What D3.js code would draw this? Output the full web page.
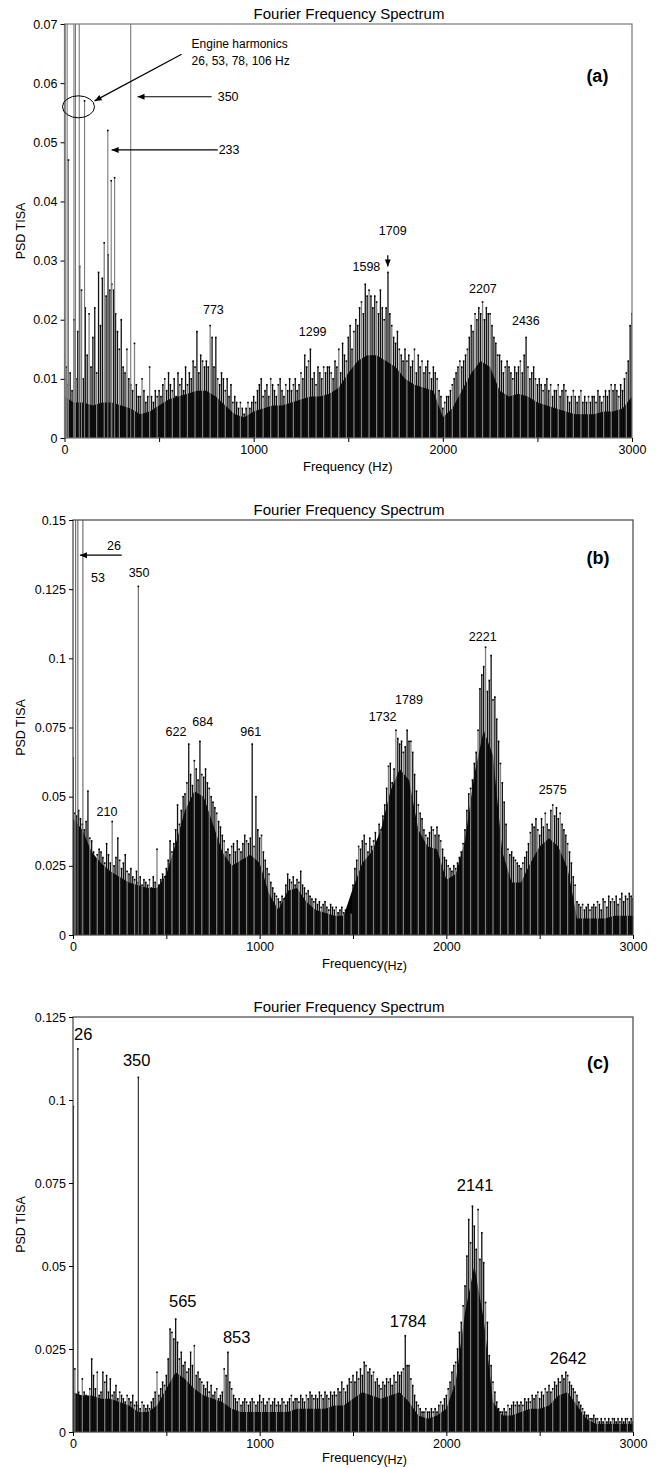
<!DOCTYPE html>
<html><head><meta charset="utf-8">
<script src="https://cdn.jsdelivr.net/npm/d3@7"></script>
<style>
body{margin:0;background:#fff;}
text{font-family:"Liberation Sans",Arial,Helvetica,sans-serif;fill:#000;}
</style></head><body>
<svg id="chart" width="663" height="1468"></svg>
<script>
// ---------------- DATA ----------------
// PSD values in thousandths (x 1e-3). Stems sampled every 10 Hz, floor (dense band) every 50 Hz.
const STEM_STEP_HZ = 10;
const FLOOR_STEP_HZ = 50;
const xTickValues = [0, 500, 1000, 1500, 2000, 2500, 3000];
const xTickLabels = ["0", "", "1000", "", "2000", "", "3000"];

// Panel (a)
const stemsA_milli = [
 14,12,9,11,8,20,10,18,29,25,
 10,22,14,21,12,17,22,11,28,19,
 27,33,24,31,25,26,25,21,18,15,
 20,12,11,15,10,9,8,16,9,7,
 7,10,8,6,7,12,7,6,8,7,
 8,7,9,10,8,11,9,8,10,7,
 11,9,10,8,12,9,11,10,13,12,
 18,11,14,13,12,13,12,19,17,12,
 17,10,9,11,10,8,10,7,9,6,
 7,6,5,6,5,4,5,6,5,6,
 7,6,8,9,10,7,8,9,7,10,
 9,8,7,9,10,8,7,9,8,10,
 8,9,10,8,9,11,10,14,12,13,
 15,10,11,9,12,11,10,12,11,12,
 12,11,10,13,12,15,11,16,14,13,
 17,19,15,18,20,19,22,23,21,26,
 24,25,24,22,24,23,21,25,22,20,
 22,28,21,19,17,16,18,15,14,13,
 15,13,14,12,13,15,11,14,12,13,
 11,12,13,11,10,12,11,10,8,7,
 5,6,7,7,8,9,10,11,12,13,
 12,13,14,15,17,19,18,21,20,22,
 21,23,20,22,21,21,19,17,16,14,
 14,13,11,12,13,12,11,10,12,11,
 12,13,11,14,17,12,10,11,12,10,
 9,10,9,8,9,10,8,9,7,8,
 8,9,7,8,9,8,7,6,7,8,
 7,6,7,8,6,7,6,7,6,7,
 7,6,8,7,6,7,8,7,8,9,
 8,9,8,7,9,8,10,11,13,19,
 21];
const floorA_milli = [
 7,6,6,5.5,6,6,5.5,5,4,4.5,
 5.5,6.5,7,7.5,8,8,7,5.5,4,3.5,
 4.5,5,5.5,5.5,6,6.5,7,7,7.5,8.5,
 11,13,14,14,13,12,10,9,8.5,8,
 3.5,5,8,11,13,12,8,7,7.5,7,
 6,5.5,5,4.5,4,4,4,4.5,4.5,5,
 7];
const peakFreqA = [4, 14, 21, 50, 58, 78, 106, 229, 247, 265, 350];
const peakValA  = [0.09, 0.09, 0.047, 0.09, 0.09, 0.09, 0.057, 0.052, 0.0435, 0.044, 0.09];
const yTicksA = [0, 0.01, 0.02, 0.03, 0.04, 0.05, 0.06, 0.07];

// Panel (b)
const stemsB_milli = [
 64,44,43,45,42,40,38,41,52,35,
 34,30,27,29,31,30,28,26,33,29,
 26,41,25,28,35,27,24,26,29,23,
 22,24,21,20,23,19,21,18,20,19,
 18,20,17,21,19,31,18,20,22,21,
 24,27,34,30,33,38,47,40,45,50,
 51,55,69,58,54,63,60,56,70,58,
 57,60,55,53,50,48,46,44,41,39,
 36,34,30,31,29,32,33,30,34,31,
 30,33,36,34,33,35,69,32,50,38,
 35,36,30,27,24,22,19,17,15,14,
 13,12,14,13,18,22,20,19,21,18,
 20,19,23,18,17,15,16,14,13,12,
 13,11,12,10,11,12,10,9,11,10,
 9,10,8,9,10,8,9,8,9,8,
 18,24,27,32,31,34,36,33,30,35,
 32,34,37,33,40,38,43,47,53,61,
 62,55,60,74,71,69,70,66,68,74,
 70,70,66,58,52,47,44,42,38,36,
 35,37,39,38,36,39,36,34,31,28,
 27,25,24,23,25,24,26,28,30,33,
 38,45,51,53,56,62,66,74,89,94,
 97,104,88,92,101,85,86,78,70,62,
 55,48,40,31,29,30,28,27,26,25,
 24,26,28,30,33,37,40,39,42,38,
 36,42,39,44,40,38,45,47,43,46,
 42,44,40,38,36,33,30,26,21,18,
 12,11,10,11,9,10,11,9,10,11,
 10,12,11,9,13,12,10,14,12,13,
 12,14,11,13,15,12,14,13,15,14,
 13];
const floorB_milli = [
 42,38,30,26,23,21,19,18,17,17,
 22,33,45,52,50,40,30,25,27,29,
 26,15,9,16,17,12,9,8,7,7,
 17,26,30,38,52,60,56,38,32,31,
 20,22,34,58,74,65,30,19,19,26,
 32,35,32,24,6,6,6,6,7,7,
 7];
const peakFreqB = [14, 26, 53, 350];
const peakValB  = [0.2, 0.2, 0.2, 0.126];
const yTicksB = [0, 0.025, 0.05, 0.075, 0.1, 0.125, 0.15];

// Panel (c)
const stemsC_milli = [
 20,19,11,12,10,16,12,11,10,13,
 22,17,13,18,11,12,18,15,17,12,
 16,11,12,14,10,12,11,10,9,11,
 10,9,11,8,9,8,7,9,8,7,
 8,7,9,10,12,18,11,13,15,14,
 17,22,31,30,28,34,27,22,24,20,
 21,18,19,24,20,26,17,18,16,15,
 14,13,15,12,14,11,12,13,10,11,
 12,19,17,24,15,13,11,10,9,10,
 8,9,10,9,8,9,10,9,8,9,
 11,9,10,8,9,10,8,9,10,8,
 9,8,10,9,8,9,10,11,9,10,
 10,9,11,10,9,11,10,12,11,10,
 11,10,12,11,10,12,11,10,12,11,
 12,11,13,12,15,13,12,14,16,15,
 17,15,18,16,19,17,21,20,18,19,
 17,18,15,16,14,13,15,14,16,15,
 16,14,17,15,18,17,18,19,29,20,
 20,16,14,11,9,8,7,6,6,7,
 6,6,7,6,7,6,8,9,8,10,
 11,13,15,18,20,21,25,30,33,38,
 44,53,64,57,68,62,55,67,52,60,
 51,39,33,23,20,15,12,9,7,6,
 6,7,6,8,7,8,9,8,9,8,
 9,8,10,9,10,9,11,10,11,12,
 10,12,11,13,12,14,12,13,15,14,
 16,15,17,16,18,17,15,14,13,12,
 11,9,8,7,6,5,5,4,4,5,
 4,4,3,4,3,4,3,4,3,4,
 4,3,4,3,4,3,4,4,3,4,
 3];
const floorC_milli = [
 12,11,11,10,10,9,8,6,6,8,
 13,18,16,13,11,10,9,7,6,6,
 6,6,6,6,7,7,7,7,8,8,
 10,12,11,10,11,12,9,5,4,5,
 7,15,36,50,34,9,5,5,6,7,
 7,8,11,12,8,4,2.5,2.5,2.5,2.5,
 2.5];
const peakFreqC = [2, 26, 350];
const peakValC  = [0.098, 0.1154, 0.1068];
const yTicksC = [0, 0.025, 0.05, 0.075, 0.1, 0.125];

// Annotation texts (label, freq Hz, PSD in 1e-3)
const labelsA = [["773",787,21.75],["1299",1312,18.0],["1598",1596,28.9],["1709",1735,35.1],["2207",2212,25.3],["2436",2439,19.9]];
const labelsB = [["26",220,140.9],["53",134,129.3],["350",354,131.1],["210",182,44.5],["622",552,73.4],["684",695,77.3],["961",952,73.4],["1732",1659,79.1],["1789",1800,84.9],["2221",2195,108.0],["2575",2570,52.4]];
const labelsC = [["26",55,119.9],["350",341,112.0],["565",588,39.5],["853",877,28.4],["1784",1795,33.5],["2141",2154,74.4],["2642",2652,22.3]];

// ---------------- LAYOUT ----------------
const panels = [
 {key:"a", stems:stemsA_milli, floor:floorA_milli, pf:peakFreqA, pv:peakValA, yTicks:yTicksA, yMax:0.07,
  l:64.5, r:632, t:24, b:438, labels:labelsA, labelSize:12.5, tag:"(a)", tagPos:[2817,61.2], peakColor:"#7a7a7a", frame:"#777", xl:"Frequency (Hz)", sub:false, xlY:28},
 {key:"b", stems:stemsB_milli, floor:floorB_milli, pf:peakFreqB, pv:peakValB, yTicks:yTicksB, yMax:0.15,
  l:73, r:633, t:520, b:935, labels:labelsB, labelSize:12.5, tag:"(b)", tagPos:[2812,136.2], peakColor:"#666", frame:"#444", xl:"Frequency", sub:true, xlY:28},
 {key:"c", stems:stemsC_milli, floor:floorC_milli, pf:peakFreqC, pv:peakValC, yTicks:yTicksC, yMax:0.125,
  l:73, r:633, t:1017, b:1432, labels:labelsC, labelSize:16.5, tag:"(c)", tagPos:[2812,111.1], peakColor:"#222", frame:"#444", xl:"Frequency", sub:true, xlY:25}
];

const svg = d3.select("#chart");
const fmt = d => d === 0 ? "0" : String(+d.toFixed(3));

function arrow(g, x1, y1, x2, y2, color) {
  g.append("line").attr("x1",x1).attr("y1",y1).attr("x2",x2).attr("y2",y2)
   .attr("stroke",color||"#000").attr("stroke-width",1.2);
  const ang = Math.atan2(y2-y1, x2-x1), L=7, Wd=3;
  const bx = x2 - L*Math.cos(ang), by = y2 - L*Math.sin(ang);
  const px = -Math.sin(ang)*Wd, py = Math.cos(ang)*Wd;
  g.append("path").attr("d",`M${x2},${y2}L${bx+px},${by+py}L${bx-px},${by-py}Z`).attr("fill",color||"#000");
}

panels.forEach(p => {
  const g = svg.append("g");
  const x = d3.scaleLinear().domain([0,3000]).range([p.l, p.r]);
  const y = d3.scaleLinear().domain([0,p.yMax]).range([p.b, p.t]);
  const clipId = "clip"+p.key;
  svg.append("clipPath").attr("id",clipId).append("rect")
    .attr("x",p.l).attr("y",p.t).attr("width",p.r-p.l).attr("height",p.b-p.t);
  const plot = g.append("g").attr("clip-path",`url(#${clipId})`);

  // dense band
  const area = d3.area().x((d,i)=>x(i*FLOOR_STEP_HZ)).y0(y(0)).y1(d=>y(d/1000));
  plot.append("path").datum(p.floor).attr("d",area).attr("fill","#000");

  // stems
  plot.append("g").selectAll("line").data(p.stems).join("line")
    .attr("x1",(d,i)=>x(i*STEM_STEP_HZ)).attr("x2",(d,i)=>x(i*STEM_STEP_HZ))
    .attr("y1",y(0)).attr("y2",d=>y(d/1000))
    .attr("stroke",(d,i)=> i%4===1 ? "#808080" : "#111").attr("stroke-width",1.3);
  plot.append("g").selectAll("rect").data(p.stems).join("rect")
    .attr("x",(d,i)=>x(i*STEM_STEP_HZ)-0.8).attr("y",d=>y(d/1000)-0.8)
    .attr("width",1.6).attr("height",1.6).attr("fill","#000");

  // prominent peaks
  const pk = p.pf.map((f,i)=>({f, v:p.pv[i]}));
  plot.append("g").selectAll("line").data(pk).join("line")
    .attr("x1",d=>x(d.f)).attr("x2",d=>x(d.f)).attr("y1",y(0)).attr("y2",d=>y(d.v))
    .attr("stroke",p.peakColor).attr("stroke-width",1.1);
  plot.append("g").selectAll("rect").data(pk).join("rect")
    .attr("x",d=>x(d.f)-0.8).attr("y",d=>y(d.v)-0.8).attr("width",1.6).attr("height",1.6).attr("fill","#000");

  // frame
  g.append("rect").attr("x",p.l).attr("y",p.t).attr("width",p.r-p.l).attr("height",p.b-p.t)
    .attr("fill","none").attr("stroke",p.frame).attr("stroke-width",1.2);

  // axes
  const ya = g.append("g").attr("transform",`translate(${p.l},0)`)
    .call(d3.axisLeft(y).tickValues(p.yTicks).tickFormat(fmt).tickSize(4).tickPadding(3));
  ya.select(".domain").remove();
  ya.selectAll("text").attr("font-size",12.5).style("font-family","Liberation Sans, Arial, sans-serif");
  const xa = g.append("g").attr("transform",`translate(0,${p.b})`)
    .call(d3.axisBottom(x).tickValues(xTickValues).tickFormat((d,i)=>xTickLabels[i]).tickSize(4).tickPadding(3));
  xa.select(".domain").remove();
  xa.selectAll("text").attr("font-size",12.5).style("font-family","Liberation Sans, Arial, sans-serif");

  // title
  g.append("text").attr("x",349).attr("y",p.t-10).attr("dy","0.35em").attr("text-anchor","middle")
    .attr("font-size",15).text("Fourier Frequency Spectrum");
  // y label
  g.append("text").attr("transform",`translate(21,${(p.t+p.b)/2}) rotate(-90)`).attr("dy","0.35em")
    .attr("text-anchor","middle").attr("font-size",12.5).text("PSD TISA");
  // x label
  const xl = g.append("text").attr("x",p.sub?322:303).attr("y",p.b+p.xlY).attr("dy","0.35em").attr("font-size",13);
  xl.append("tspan").text(p.xl);
  if (p.sub) xl.append("tspan").attr("dy",2.5).attr("font-size",12.5).text("(Hz)");

  // peak labels
  g.append("g").selectAll("text").data(p.labels).join("text")
    .attr("x",d=>x(d[1])).attr("y",d=>y(d[2]/1000)).attr("dy","0.35em")
    .attr("text-anchor","middle").attr("font-size",p.labelSize).text(d=>d[0]);
  // panel tag
  g.append("text").attr("x",x(p.tagPos[0])).attr("y",y(p.tagPos[1]/1000)).attr("dy","0.35em")
    .attr("text-anchor","middle").attr("font-size",18).attr("font-weight","bold").text(p.tag);

  // specific annotations
  if (p.key === "a") {
    g.append("ellipse").attr("cx",x(74)).attr("cy",y(0.056)).attr("rx",16).attr("ry",11)
      .attr("fill","none").attr("stroke","#000").attr("stroke-width",1);
    const t = g.append("text").attr("font-size",12);
    t.append("tspan").attr("x",x(672)).attr("y",y(0.0666)).attr("dy","0.35em").text("Engine harmonics");
    t.append("tspan").attr("x",x(672)).attr("y",y(0.0637)).attr("dy","0.35em").text("26, 53, 78, 106 Hz");
    arrow(g, x(619), y(0.0649), x(159), y(0.057));
    arrow(g, x(778), y(0.0577), x(386), y(0.0577));
    g.append("text").attr("x",x(810)).attr("y",y(0.0577)).attr("dy","0.35em").attr("font-size",12.5).text("350");
    arrow(g, x(810), y(0.0487), x(249), y(0.0487));
    g.append("text").attr("x",x(815)).attr("y",y(0.0487)).attr("dy","0.35em").attr("font-size",12.5).text("233");
    arrow(g, x(1709), y(0.0309), x(1709), y(0.0290));
  }
  if (p.key === "b") {
    arrow(g, x(261), y(0.1373), x(37), y(0.1373));
  }
});
</script>
</body></html>
